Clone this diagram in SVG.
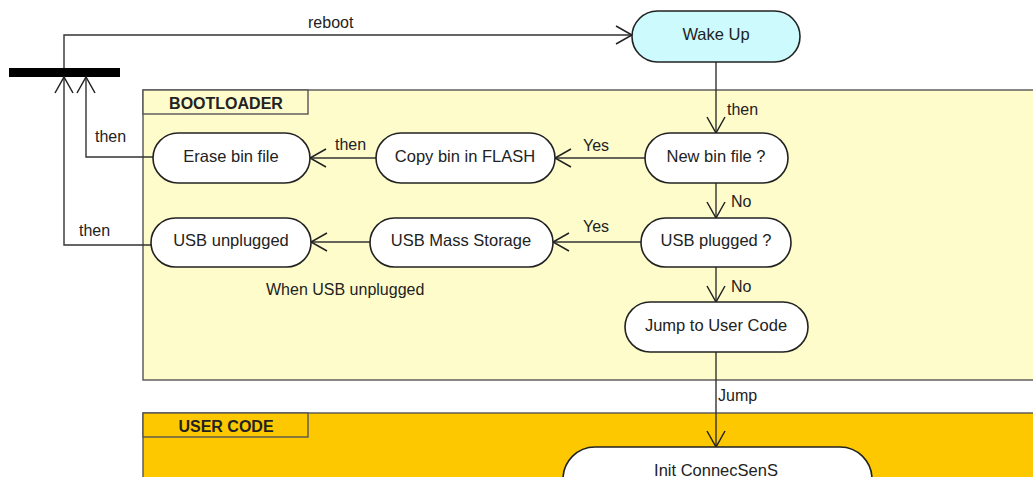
<svg xmlns="http://www.w3.org/2000/svg" width="1033" height="477" viewBox="0 0 1033 477">
<defs>
<style>
.n{fill:#fff;stroke:#222;stroke-width:1.6}
.t{font-family:"Liberation Sans",Arial,sans-serif;font-size:16.5px;fill:#222;text-anchor:middle}
.l{font-family:"Liberation Sans",Arial,sans-serif;font-size:16px;fill:#222}
.b{font-family:"Liberation Sans",Arial,sans-serif;font-size:16px;font-weight:bold;fill:#222;text-anchor:middle}
.c{fill:none;stroke:#333;stroke-width:1.4;marker-end:url(#a)}
.p{stroke:#555;stroke-width:1.4}
</style>
<marker id="a" viewBox="-18 -11 20 22" markerWidth="20" markerHeight="22" refX="0" refY="0" orient="auto" markerUnits="userSpaceOnUse">
<path d="M-16,-9 L0,0 L-16,9" fill="none" stroke="#222" stroke-width="1.5"/>
</marker>
</defs>
<rect width="1033" height="477" fill="#fff"/>
<g id="bootloader">
<rect class="p" x="143" y="90" width="900" height="290" fill="#fefccb"/>
<rect class="p" x="143" y="90" width="165" height="24" fill="#fefccb"/>
<text class="b" x="226" y="109">BOOTLOADER</text>
</g>
<g id="usercode">
<rect class="p" x="143" y="413" width="900" height="80" fill="#fec800"/>
<rect class="p" x="143" y="413" width="165" height="24" fill="#fec800"/>
<text class="b" x="226" y="432">USER CODE</text>
</g>
<g id="bar"><rect x="9" y="68" width="111" height="9" fill="#000"/></g>
<g id="connectors">
<path class="c" d="M64,68 L64,35 L632,35"/>
<path class="c" d="M153,157 L86,157 L86,77"/>
<path class="c" d="M151,245 L64,245 L64,77"/>
<path class="c" d="M716,62 L716,133"/>
<path class="c" d="M645,158 L555,158"/>
<path class="c" d="M376,158 L310,158"/>
<path class="c" d="M716,183 L716,218"/>
<path class="c" d="M641,242 L553,242"/>
<path class="c" d="M370,242 L311,242"/>
<path class="c" d="M716,267 L716,302"/>
<path class="c" d="M716,352 L716,447"/>
<text class="l" x="308" y="28">reboot</text>
<text class="l" x="727" y="115">then</text>
<text class="l" x="583" y="151">Yes</text>
<text class="l" x="335" y="150">then</text>
<text class="l" x="95" y="142">then</text>
<text class="l" x="731" y="207">No</text>
<text class="l" x="583" y="232">Yes</text>
<text class="l" x="79" y="236">then</text>
<text class="l" x="266" y="295">When USB unplugged</text>
<text class="l" x="731" y="292">No</text>
<text class="l" x="718" y="401">Jump</text>
</g>
<g id="wakeup"><rect class="n" x="632" y="11" width="168" height="51" rx="25.5" style="fill:#ccfafd"/><text class="t" x="716" y="40">Wake Up</text></g>
<g id="newbin"><rect class="n" x="645" y="133" width="143" height="50" rx="25"/><text class="t" x="716" y="162">New bin file ?</text></g>
<g id="copybin"><rect class="n" x="376" y="133" width="179" height="50" rx="25"/><text class="t" x="465" y="162">Copy bin in FLASH</text></g>
<g id="erasebin"><rect class="n" x="153" y="133" width="157" height="50" rx="25"/><text class="t" x="231" y="162">Erase bin file</text></g>
<g id="usbplugged"><rect class="n" x="641" y="218" width="150" height="49" rx="24.5"/><text class="t" x="716" y="246">USB plugged ?</text></g>
<g id="usbmass"><rect class="n" x="370" y="218" width="183" height="49" rx="24.5"/><text class="t" x="461" y="246">USB Mass Storage</text></g>
<g id="usbunplugged"><rect class="n" x="151" y="218" width="160" height="49" rx="24.5"/><text class="t" x="231" y="246">USB unplugged</text></g>
<g id="jump"><rect class="n" x="625" y="302" width="183" height="50" rx="25"/><text class="t" x="716" y="331">Jump to User Code</text></g>
<g id="init"><rect class="n" x="563" y="447" width="309" height="80" rx="32"/><text class="t" x="716" y="476">Init ConnecSenS</text></g>
</svg>
